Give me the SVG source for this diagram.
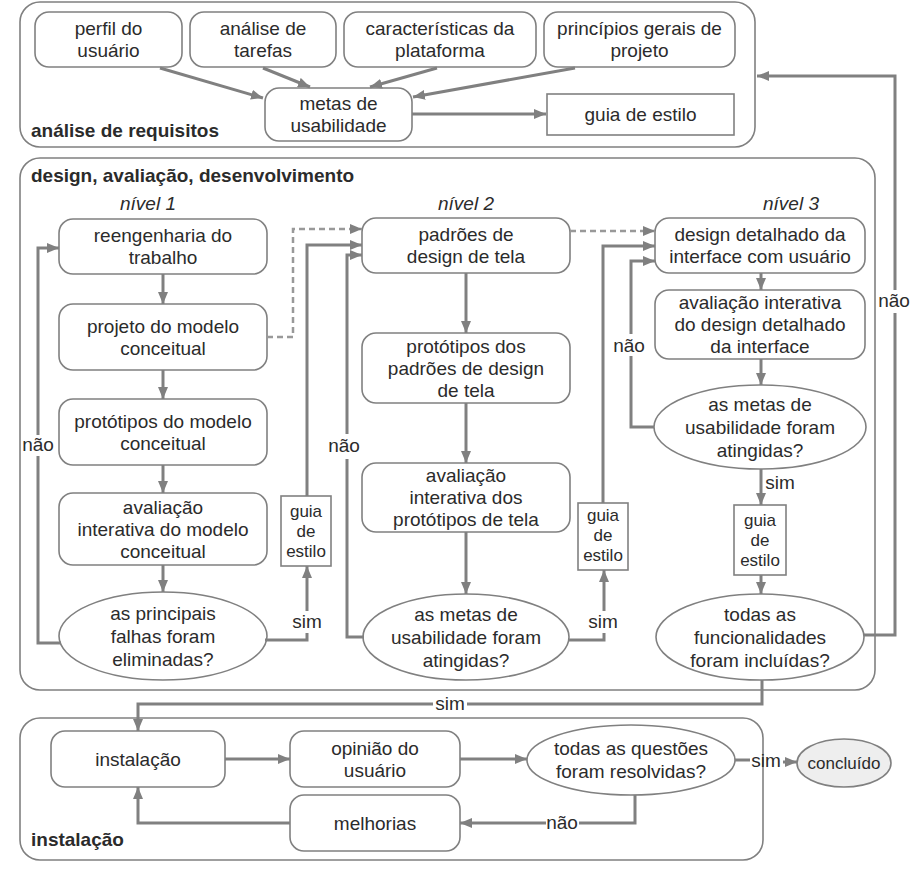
<svg xmlns="http://www.w3.org/2000/svg" width="918" height="874" viewBox="0 0 918 874">
<defs>
<marker id="ah" viewBox="0 0 12 10" refX="12" refY="5" markerWidth="12" markerHeight="10" markerUnits="userSpaceOnUse" orient="auto"><path d="M0,0 L12,5 L0,10 z" fill="#808080"/></marker>
<style>
.grp{fill:#fff;stroke:#808080;stroke-width:1.6}
.box{fill:#fff;stroke:#808080;stroke-width:1.6}
.t{font-family:"Liberation Sans",Arial,sans-serif;font-size:19px;fill:#2b2b2b;text-anchor:middle}
.s{font-family:"Liberation Sans",Arial,sans-serif;font-size:17px;fill:#2b2b2b;text-anchor:middle}
.h{font-family:"Liberation Sans",Arial,sans-serif;font-size:19px;font-weight:bold;fill:#2b2b2b}
.i{font-family:"Liberation Sans",Arial,sans-serif;font-size:19px;font-style:italic;fill:#2b2b2b;text-anchor:middle}
.c{fill:none;stroke:#808080;stroke-width:3}
.ca{fill:none;stroke:#808080;stroke-width:3;marker-end:url(#ah)}
.d{fill:none;stroke:#999;stroke-width:2.5;stroke-dasharray:6,4;marker-end:url(#ah)}
</style>
</defs>

<g id="group-requisitos">
<rect class="grp" x="20" y="2" width="735" height="145" rx="20"/>
<text class="h" x="31" y="137">análise de requisitos</text>
</g>
<g id="group-design">
<rect class="grp" x="20" y="158" width="855" height="532" rx="20"/>
<text class="h" x="31" y="182">design, avaliação, desenvolvimento</text>
<text class="i" x="148" y="210">nível 1</text>
<text class="i" x="466" y="210">nível 2</text>
<text class="i" x="791" y="210">nível 3</text>
</g>
<g id="group-instalacao">
<rect class="grp" x="20" y="718" width="743" height="142" rx="20"/>
<text class="h" x="31" y="846">instalação</text>
</g>

<g id="n-perfil"><rect class="box" x="35" y="12" width="147" height="55" rx="14"/><text class="t" x="108.5" y="35">perfil do</text><text class="t" x="108.5" y="57">usuário</text></g>
<g id="n-tarefas"><rect class="box" x="190" y="12" width="146" height="55" rx="14"/><text class="t" x="263" y="35">análise de</text><text class="t" x="263" y="57">tarefas</text></g>
<g id="n-plataforma"><rect class="box" x="344" y="12" width="192" height="55" rx="14"/><text class="t" x="440" y="35">características da</text><text class="t" x="440" y="57">plataforma</text></g>
<g id="n-principios"><rect class="box" x="544" y="12" width="191" height="55" rx="14"/><text class="t" x="639.5" y="35">princípios gerais de</text><text class="t" x="639.5" y="57">projeto</text></g>
<g id="n-metas"><rect class="box" x="265" y="88" width="147" height="53" rx="14"/><text class="t" x="338.5" y="110">metas de</text><text class="t" x="338.5" y="132">usabilidade</text></g>
<g id="n-guia-top"><rect class="box" x="547" y="94" width="187" height="41"/><text class="t" x="640.5" y="121">guia de estilo</text></g>

<g id="n-reeng"><rect class="box" x="59" y="219" width="208" height="55" rx="14"/><text class="t" x="163" y="242">reengenharia do</text><text class="t" x="163" y="264">trabalho</text></g>
<g id="n-projeto"><rect class="box" x="59" y="304" width="208" height="66" rx="14"/><text class="t" x="163" y="333">projeto do modelo</text><text class="t" x="163" y="355">conceitual</text></g>
<g id="n-prot1"><rect class="box" x="59" y="399" width="208" height="66" rx="14"/><text class="t" x="163" y="428">protótipos do modelo</text><text class="t" x="163" y="450">conceitual</text></g>
<g id="n-aval1"><rect class="box" x="59" y="493" width="208" height="72" rx="14"/><text class="t" x="163" y="514">avaliação</text><text class="t" x="163" y="536">interativa do modelo</text><text class="t" x="163" y="558">conceitual</text></g>
<g id="n-dec1"><ellipse class="box" cx="163" cy="636" rx="104" ry="44"/><text class="t" x="163" y="620">as principais</text><text class="t" x="163" y="643">falhas foram</text><text class="t" x="163" y="666">eliminadas?</text></g>
<g id="n-guia1"><rect class="box" x="281" y="496" width="50" height="70"/><text class="s" x="306" y="517">guia</text><text class="s" x="306" y="537">de</text><text class="s" x="306" y="557">estilo</text></g>

<g id="n-padroes"><rect class="box" x="362" y="218" width="208" height="55" rx="14"/><text class="t" x="466" y="241">padrões de</text><text class="t" x="466" y="263">design de tela</text></g>
<g id="n-prot2"><rect class="box" x="362" y="333" width="208" height="70" rx="14"/><text class="t" x="466" y="353">protótipos dos</text><text class="t" x="466" y="375">padrões de design</text><text class="t" x="466" y="397">de tela</text></g>
<g id="n-aval2"><rect class="box" x="362" y="463" width="208" height="69" rx="14"/><text class="t" x="466" y="482">avaliação</text><text class="t" x="466" y="504">interativa dos</text><text class="t" x="466" y="526">protótipos de tela</text></g>
<g id="n-dec2"><ellipse class="box" cx="466" cy="637" rx="103" ry="43"/><text class="t" x="466" y="621">as metas de</text><text class="t" x="466" y="644">usabilidade foram</text><text class="t" x="466" y="667">atingidas?</text></g>
<g id="n-guia2"><rect class="box" x="578" y="503" width="50" height="67"/><text class="s" x="603" y="521">guia</text><text class="s" x="603" y="541">de</text><text class="s" x="603" y="561">estilo</text></g>

<g id="n-detalhado"><rect class="box" x="655" y="218" width="210" height="55" rx="14"/><text class="t" x="760" y="241">design detalhado da</text><text class="t" x="760" y="263">interface com usuário</text></g>
<g id="n-aval3"><rect class="box" x="655" y="290" width="210" height="69" rx="14"/><text class="t" x="760" y="309">avaliação interativa</text><text class="t" x="760" y="331">do design detalhado</text><text class="t" x="760" y="353">da interface</text></g>
<g id="n-dec3"><ellipse class="box" cx="760" cy="427" rx="106" ry="42"/><text class="t" x="760" y="411">as metas de</text><text class="t" x="760" y="434">usabilidade foram</text><text class="t" x="760" y="457">atingidas?</text></g>
<g id="n-guia3"><rect class="box" x="734" y="505" width="52" height="70"/><text class="s" x="760" y="526">guia</text><text class="s" x="760" y="546">de</text><text class="s" x="760" y="566">estilo</text></g>
<g id="n-dec4"><ellipse class="box" cx="760" cy="637" rx="104" ry="43"/><text class="t" x="760" y="621">todas as</text><text class="t" x="760" y="644">funcionalidades</text><text class="t" x="760" y="667">foram incluídas?</text></g>

<g id="n-instal"><rect class="box" x="51" y="731" width="174" height="56" rx="14"/><text class="t" x="138" y="766">instalação</text></g>
<g id="n-opiniao"><rect class="box" x="290" y="731" width="170" height="56" rx="14"/><text class="t" x="375" y="755">opinião do</text><text class="t" x="375" y="777">usuário</text></g>
<g id="n-melhorias"><rect class="box" x="290" y="795" width="170" height="56" rx="14"/><text class="t" x="375" y="830">melhorias</text></g>
<g id="n-dec5"><ellipse class="box" cx="631" cy="760" rx="104" ry="35"/><text class="t" x="631" y="755">todas as questões</text><text class="t" x="631" y="778">foram resolvidas?</text></g>
<g id="n-concluido"><ellipse cx="844" cy="763" rx="47" ry="24" fill="#eeeeee" stroke="#808080" stroke-width="1.6"/><text class="s" x="844" y="769">concluído</text></g>

<g id="connectors">
<path class="ca" d="M160,68 L263,98"/>
<path class="ca" d="M263,68 L310,87"/>
<path class="ca" d="M437,68 L370,87"/>
<path class="ca" d="M575,68 L413,97"/>
<path class="ca" d="M412,114 H546"/>

<path class="ca" d="M163,274 V304"/>
<path class="ca" d="M163,370 V399"/>
<path class="ca" d="M163,465 V493"/>
<path class="ca" d="M163,565 V592"/>
<path class="c" d="M61,643 H38 V456"/>
<path class="ca" d="M38,435 V248 H59"/>
<text class="t" x="38" y="451">não</text>
<path class="c" d="M265,640 H307 V633"/>
<path class="ca" d="M307,611 V566"/>
<text class="t" x="307" y="628">sim</text>
<path class="ca" d="M307,496 V245 H362"/>
<path class="d" d="M267,337 H293 V229 H362"/>

<path class="ca" d="M466,273 V333"/>
<path class="ca" d="M466,403 V463"/>
<path class="ca" d="M466,532 V594"/>
<path class="c" d="M364,637 H347 V459"/>
<path class="ca" d="M347,434 V255 H362"/>
<text class="t" x="344" y="452">não</text>
<path class="c" d="M569,640 H604 V633"/>
<path class="ca" d="M604,611 V570"/>
<text class="t" x="603" y="628">sim</text>
<path class="ca" d="M603,503 V246 H655"/>
<path class="d" d="M570,231 H655"/>

<path class="ca" d="M761,273 V290"/>
<path class="ca" d="M761,359 V385"/>
<path class="ca" d="M761,469 V505"/>
<text class="t" x="780" y="489">sim</text>
<path class="ca" d="M761,575 V594"/>
<path class="c" d="M654,427 H631 V356"/>
<path class="ca" d="M631,334 V261 H655"/>
<text class="t" x="629" y="352">não</text>
<path class="c" d="M864,635 H895 V313"/>
<path class="ca" d="M895,290 V76 H757"/>
<text class="t" x="894" y="307">não</text>

<path class="c" d="M762,680 V704 H467"/>
<path class="ca" d="M433,704 H138 V731"/>
<text class="t" x="450" y="710">sim</text>

<path class="ca" d="M225,759 H290"/>
<path class="ca" d="M460,759 H527"/>
<path class="c" d="M735,760 H750"/>
<path class="ca" d="M783,762 H797"/>
<text class="t" x="766" y="767">sim</text>
<path class="c" d="M635,795 V823 H579"/>
<path class="ca" d="M546,823 H460"/>
<text class="t" x="562" y="829">não</text>
<path class="ca" d="M290,823 H138 V787"/>
</g>
</svg>
